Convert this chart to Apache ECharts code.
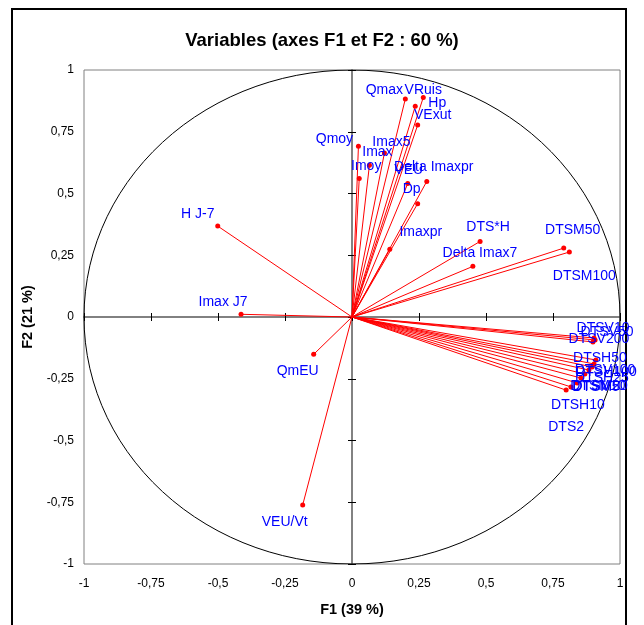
<!DOCTYPE html>
<html><head><meta charset="utf-8">
<script src="https://cdn.jsdelivr.net/npm/echarts@6/dist/echarts.min.js"></script>
<style>html,body{margin:0;padding:0;background:#fff}#c{width:644px;height:625px}</style>
</head><body><div id="c"></div>
<script>
// Variables and their coordinates on F1 / F2
const variables = ['Qmax','VRuis','Hp','VExut','Qmoy','Imax5','Imax','Imoy','VEU','Delta Imaxpr','Dp','Imaxpr',
  'DTS*H','Delta Imax7','DTSM50','DTSM100','H J-7','Imax J7','QmEU','VEU/Vt',
  'DTSV10','DTSV50','DTSV200','DTSH50','DTSV100','DTSH100','DTSH25','DTSM5','DTSM10','DTSM20','DTSH10','DTS2'];
const f1 = [0.199,0.266,0.236,0.245,0.024,0.121,0.065,0.027,0.208,0.279,0.245,0.141,
  0.478,0.451,0.790,0.811,-0.501,-0.414,-0.143,-0.184,
  0.903,0.907,0.899,0.910,0.903,0.896,0.884,0.869,0.854,0.840,0.817,0.799];
const f2 = [0.883,0.889,0.853,0.777,0.691,0.664,0.614,0.561,0.540,0.549,0.459,0.274,
  0.306,0.205,0.279,0.263,0.368,0.011,-0.151,-0.761,
  -0.085,-0.093,-0.101,-0.174,-0.190,-0.202,-0.215,-0.231,-0.247,-0.267,-0.283,-0.296];
const tickValues = [-1,-0.75,-0.5,-0.25,0,0.25,0.5,0.75,1];
const titleText = 'Variables (axes F1 et F2 : 60 %)';
const xName = 'F1 (39 %)';
const yName = 'F2 (21 %)';

// label placement (pixel offsets of label centre from its point)
const labelOffsets = [[-21,-9],[0,-7],[22,-3],[15,-10],[-24,-7],[7,-11],[8,-13],[7,-12],[1,-13],[7,-14],[-6,-14],[31,-17],
  [8,-14],[7,-13],[9,-18],[15,24],[-20,-12],[-18,-12],[-16,17],[-18,17],
  [9,-10],[12,-8],[6,-3],[4,-2],[11,6],[14,5],[13,8],[11,13],[17,8],[23,3],[7,18],[0,37]];

// unit circle (correlation circle)
const circle = [];
for (let i = 0; i <= 120; i++) { const a = i / 120 * 2 * Math.PI; circle.push([Math.cos(a), Math.sin(a)]); }

const FONT = '"Liberation Sans", Arial, sans-serif';
const fmt = v => String(v).replace('.', ',');
const base = { type:'value', min:tickValues[0], max:tickValues[tickValues.length-1], interval:0.25, splitLine:{show:false} };
const zeroAxis = (pos, inside) => Object.assign({}, base, {
  position: pos,
  axisLine:{show:true, onZero:true, onZeroAxisIndex:0, lineStyle:{color:'#7a7a7a', width:1.5}},
  axisTick:{show:true, inside:inside, length:4, lineStyle:{color:'#000', width:1}},
  axisLabel:{show:false}
});

const chart = echarts.init(document.getElementById('c'), null, {renderer:'canvas'});
chart.setOption({
  animation:false,
  backgroundColor:'#fff',
  title:{ text:titleText, left:'center', top:26, textStyle:{fontFamily:FONT, fontSize:18.5, fontWeight:'bold', color:'#000'} },
  graphic:[{ type:'rect', shape:{x:12, y:9, width:614, height:630}, style:{fill:'none', stroke:'#000', lineWidth:2}, silent:true }],
  grid:{ left:84, right:24, top:70, bottom:61, show:true, borderColor:'#808080', borderWidth:1 },
  xAxis:[
    Object.assign({}, base, { position:'bottom', axisLine:{show:false, onZero:false}, axisTick:{show:false},
      axisLabel:{formatter:fmt, fontFamily:FONT, fontSize:12, color:'#000', margin:14},
      name:xName, nameLocation:'middle', nameGap:38, nameTextStyle:{fontFamily:FONT, fontSize:14.5, fontWeight:'bold', color:'#000'} }),
    zeroAxis('bottom', true),
    zeroAxis('bottom', false)
  ],
  yAxis:[
    Object.assign({}, base, { position:'left', axisLine:{show:false, onZero:false}, axisTick:{show:false},
      axisLabel:{formatter:fmt, fontFamily:FONT, fontSize:12, color:'#000', margin:10},
      name:yName, nameLocation:'middle', nameGap:44, nameRotate:90, nameTextStyle:{fontFamily:FONT, fontSize:14.5, fontWeight:'bold', color:'#000'} }),
    zeroAxis('left', true),
    zeroAxis('left', false)
  ],
  series:[
    { type:'line', data:circle, showSymbol:false, symbol:'none', silent:true, lineStyle:{color:'#000', width:1}, z:2 },
    { type:'custom', silent:true, z:3,
      data: variables.map((n,i)=>[f1[i], f2[i], i]),
      renderItem:(params, api)=>{
        const o = api.coord([0,0]);
        const p = api.coord([api.value(0), api.value(1)]);
        return { type:'line', shape:{x1:o[0], y1:o[1], x2:p[0], y2:p[1]}, style:{stroke:'#ff0000', lineWidth:1} };
      } },
    { type:'custom', silent:true, z:4,
      data: variables.map((n,i)=>[f1[i], f2[i], i]),
      renderItem:(params, api)=>{
        const p = api.coord([api.value(0), api.value(1)]);
        return { type:'circle', shape:{cx:p[0], cy:p[1], r:2.5}, style:{fill:'#ff0000'} };
      } },
    { type:'custom', silent:true, z:5,
      data: variables.map((n,i)=>[f1[i], f2[i], i]),
      renderItem:(params, api)=>{
        const i = api.value(2);
        const p = api.coord([api.value(0), api.value(1)]);
        const off = labelOffsets[i];
        return { type:'text', x:p[0] + off[0], y:p[1] + off[1],
          style:{ text:variables[i], fill:'#0000ff', font:'14px ' + FONT, align:'center', verticalAlign:'middle' } };
      } }
  ]
});
</script></body></html>
